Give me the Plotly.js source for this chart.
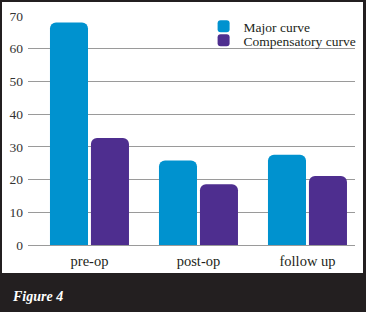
<!DOCTYPE html>
<html>
<head>
<meta charset="utf-8">
<script src="https://cdn.plot.ly/plotly-3.0.1.min.js"></script>
<style>
  html, body { margin: 0; padding: 0; background: #231f20; }
  #chart { width: 366px; height: 312px; }
</style>
</head>
<body>
<div id="chart"></div>
<script>
// ---- data ----
const categories = ["pre-op", "post-op", "follow up"];
const majorCurve = [68, 25.8, 27.6];
const compensatoryCurve = [32.7, 18.6, 21.1];
const seriesNames = ["Major curve", "Compensatory curve"];
const yTicks = [0, 10, 20, 30, 40, 50, 60, 70];
const figureLabel = "Figure 4";

const serif = "Liberation Serif, Times New Roman, serif";

const traces = [
  {
    type: "bar",
    name: seriesNames[0],
    x: categories,
    y: majorCurve,
    marker: { color: "#0092cf", cornerradius: 6 },
    legend: "legend",
    hoverinfo: "skip"
  },
  {
    type: "bar",
    name: seriesNames[1],
    x: categories,
    y: compensatoryCurve,
    marker: { color: "#4e2e8f", cornerradius: 6 },
    legend: "legend2",
    hoverinfo: "skip"
  }
];

const legendStyle = {
  x: 0.537,
  xanchor: "left",
  yanchor: "top",
  bgcolor: "rgba(0,0,0,0)",
  borderwidth: 0,
  itemwidth: 30,
  font: { family: serif, size: 13.5, color: "#231f20" }
};

const layout = {
  width: 366,
  height: 312,
  margin: { l: 28, r: 11, t: 16, b: 67, pad: 0, autoexpand: false },
  paper_bgcolor: "#231f20",
  plot_bgcolor: "#ffffff",
  barmode: "group",
  bargap: 0.248,
  bargroupgap: 0.072,
  showlegend: true,
  legend: Object.assign({}, legendStyle, { y: 1.0218 }),
  legend2: Object.assign({}, legendStyle, { y: 0.9607 }),
  xaxis: {
    type: "category",
    range: [-0.564, 2.436],
    showgrid: false,
    zeroline: false,
    showline: false,
    ticks: "",
    ticklabelstandoff: 5,
    tickfont: { family: serif, size: 14.5, color: "#231f20" },
    fixedrange: true
  },
  yaxis: {
    range: [0, 70],
    tickvals: yTicks,
    ticktext: yTicks.map(String),
    showgrid: true,
    gridcolor: "#9a9a9a",
    gridwidth: 1,
    zeroline: true,
    zerolinecolor: "#9a9a9a",
    zerolinewidth: 1,
    showline: false,
    ticks: "",
    ticklabelstandoff: 4,
    tickfont: { family: serif, size: 13.5, color: "#333333" },
    fixedrange: true
  },
  shapes: [
    {
      type: "rect",
      xref: "paper",
      yref: "paper",
      layer: "below",
      x0: (2 - 28) / 327,
      x1: (363 - 28) / 327,
      y0: (245 - 273) / 229,
      y1: 1 + 14 / 229,
      fillcolor: "#ffffff",
      line: { width: 0 }
    }
  ],
  annotations: [
    {
      text: "<b><i>" + figureLabel + "</i></b>",
      xref: "paper",
      yref: "paper",
      x: (10 - 28) / 327,
      y: (245 - 296) / 229,
      xanchor: "left",
      yanchor: "middle",
      showarrow: false,
      font: { family: serif, size: 14, color: "#ffffff" }
    }
  ]
};

Plotly.newPlot("chart", traces, layout, { displayModeBar: false, staticPlot: true });
</script>
</body>
</html>
